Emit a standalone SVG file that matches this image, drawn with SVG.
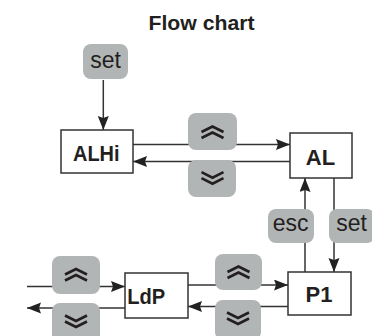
<svg xmlns="http://www.w3.org/2000/svg" xmlns:xlink="http://www.w3.org/1999/xlink" width="372" height="336" viewBox="0 0 372 336">
<style>
.title{font-family:"Liberation Sans",Arial,sans-serif;font-weight:bold;font-size:21px;fill:#231f20}
.node rect{fill:#fff;stroke:#333;stroke-width:1.5}
.node text{font-family:"Liberation Sans",Arial,sans-serif;font-weight:bold;font-size:22px;fill:#231f20}
.btn rect{fill:#b2b5b5}
.btn text{font-family:"Liberation Sans",Arial,sans-serif;font-size:23px;fill:#231f20;text-anchor:middle}
.chev{fill:none;stroke:#231f20;stroke-width:2.6;stroke-linejoin:miter}
.conn line{stroke:#333;stroke-width:1.5}
.arr{marker-end:url(#ah)}
</style>
<defs>
<marker id="ah" markerUnits="userSpaceOnUse" markerWidth="16" markerHeight="12" refX="14" refY="5.5" orient="auto">
<path d="M0,0 L14,5.5 L0,11 L2,5.5 z" fill="#222"/>
</marker>
<g id="up" class="chev"><polyline points="-11,-0.5 0,-6 11,-0.5"/><polyline points="-11,5.5 0,0 11,5.5"/></g>
<g id="down" class="chev"><polyline points="-11,0.5 0,6 11,0.5"/><polyline points="-11,-5.5 0,0 11,-5.5"/></g>
</defs>
<rect width="372" height="336" fill="#fff"/>
<text class="title" x="148.5" y="29.5" textLength="106" lengthAdjust="spacingAndGlyphs">Flow chart</text>

<g id="connectors" class="conn">
<line class="arr" x1="103.3" y1="80" x2="103.3" y2="130"/>
<line class="arr" x1="133" y1="144.5" x2="290" y2="144.5"/>
<line class="arr" x1="290" y1="161.5" x2="133" y2="161.5"/>
<line class="arr" x1="305" y1="272" x2="305" y2="178"/>
<line class="arr" x1="334" y1="178" x2="334" y2="272"/>
<line class="arr" x1="188" y1="285" x2="288" y2="285"/>
<line class="arr" x1="288" y1="306.5" x2="188" y2="306.5"/>
<line class="arr" x1="27" y1="286.5" x2="125" y2="286.5"/>
<line class="arr" x1="125" y1="308" x2="27" y2="308"/>
</g>

<g id="btn-set-top" class="btn"><rect x="83" y="44" width="45" height="35" rx="8"/><text x="105.5" y="68.3">set</text></g>
<g id="btn-up-1" class="btn"><rect x="188" y="113" width="49" height="37" rx="8"/><use xlink:href="#up" x="212.5" y="132.5"/></g>
<g id="btn-down-1" class="btn"><rect x="188" y="160" width="48" height="37" rx="8"/><use xlink:href="#down" x="212.5" y="177.7"/></g>
<g id="btn-esc" class="btn"><rect x="268" y="209" width="46" height="34" rx="8"/><text x="290.7" y="231.3">esc</text></g>
<g id="btn-set-right" class="btn"><rect x="329" y="209" width="46" height="34" rx="8"/><text x="351.5" y="231.3">set</text></g>
<g id="btn-up-2" class="btn"><rect x="215" y="254" width="47" height="36" rx="8"/><use xlink:href="#up" x="238.5" y="272.5"/></g>
<g id="btn-down-2" class="btn"><rect x="215" y="300" width="46" height="40" rx="8"/><use xlink:href="#down" x="238" y="318"/></g>
<g id="btn-up-3" class="btn"><rect x="52" y="256" width="48" height="38" rx="8"/><use xlink:href="#up" x="76" y="275"/></g>
<g id="btn-down-3" class="btn"><rect x="52" y="303" width="48" height="40" rx="8"/><use xlink:href="#down" x="76" y="321"/></g>

<g id="node-ALHi" class="node"><rect x="61" y="130" width="72" height="43"/><text x="73" y="160.7" textLength="46.5" lengthAdjust="spacingAndGlyphs">ALHi</text></g>
<g id="node-AL" class="node"><rect x="290" y="133" width="62" height="45"/><text x="320.5" y="165" text-anchor="middle">AL</text></g>
<g id="node-P1" class="node"><rect x="288" y="272" width="63" height="43"/><text x="319" y="302" text-anchor="middle">P1</text></g>
<g id="node-LdP" class="node"><rect x="125" y="273" width="63" height="45"/><text x="127.3" y="304" textLength="38" lengthAdjust="spacingAndGlyphs">LdP</text></g>
</svg>
